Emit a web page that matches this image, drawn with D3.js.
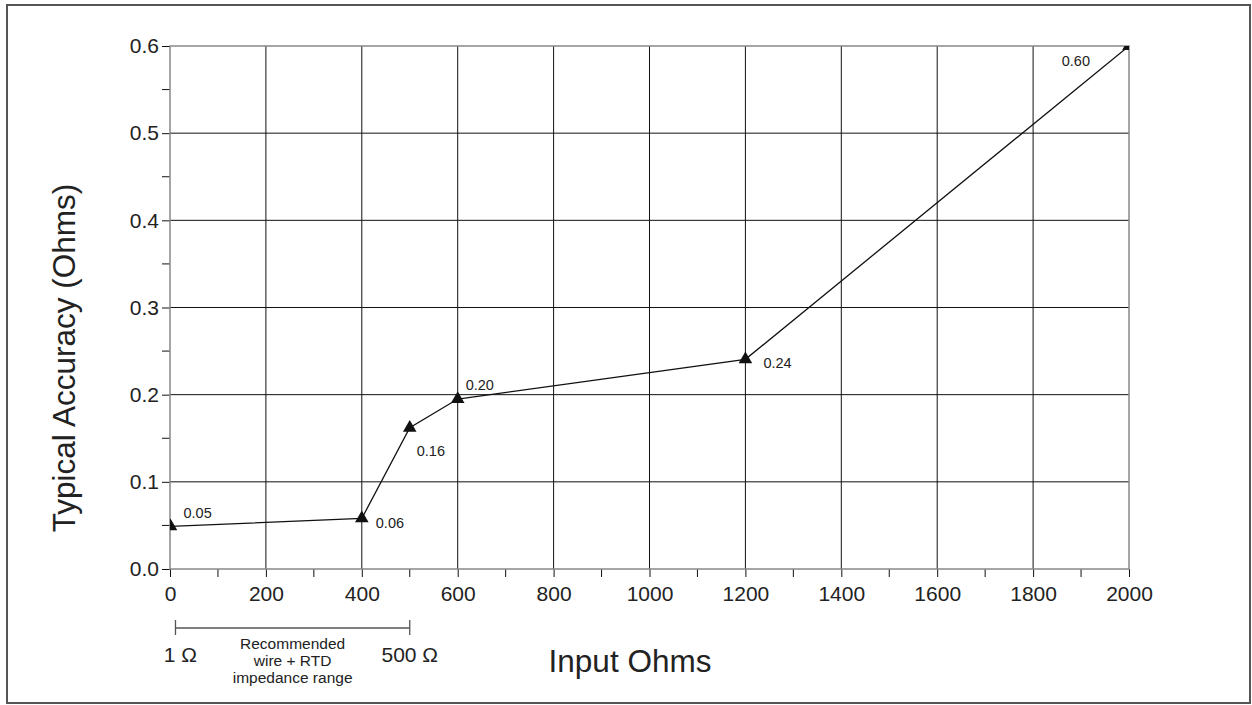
<!DOCTYPE html>
<html>
<head>
<meta charset="utf-8">
<script src="https://cdn.jsdelivr.net/npm/d3@7"></script>
<style>
  body { margin: 0; background: #fff; }
  text { font-family: "Liberation Sans", Arial, sans-serif; fill: #222; }
</style>
</head>
<body>
<div id="chart"></div>
<script>
// data
const inputOhms = [1, 400, 500, 600, 1200, 2000];
const accuracy = [0.049, 0.058, 0.162, 0.195, 0.2405, 0.6];
const pointLabels = ["0.05", "0.06", "0.16", "0.20", "0.24", "0.60"];
const xTicks = [0, 200, 400, 600, 800, 1000, 1200, 1400, 1600, 1800, 2000];
const yTicks = [0.0, 0.1, 0.2, 0.3, 0.4, 0.5, 0.6];
const rangeEnds = [1, 500];
const rangeLabels = ["1 \u03A9", "500 \u03A9"];
const rangeCaption = ["Recommended", "wire + RTD", "impedance range"];

// label placement relative to each point (dx, dy, anchor)
const labelOffsets = [[13, -8, "start"], [14, 10, "start"], [7, 28, "start"],
                      [8, -9, "start"], [18, 9, "start"], [-39, 20, "end"]];

const width = 1252, height = 705;
const margin = {left: 170, top: 46, right: 1252 - 1129, bottom: 705 - 569};
const iw = width - margin.left - margin.right,
      ih = height - margin.top - margin.bottom;

const svg = d3.select("#chart").append("svg")
    .attr("width", width)
    .attr("height", height);

// outer frame
svg.append("rect")
    .attr("x", 7).attr("y", 5)
    .attr("width", 1243).attr("height", 698)
    .attr("fill", "none")
    .attr("stroke", "#555")
    .attr("stroke-width", 2);

const x = d3.scaleLinear().domain([0, 2000]).range([0, iw]);
const y = d3.scaleLinear().domain([0, 0.6]).range([ih, 0]);

const g = svg.append("g")
    .attr("transform", "translate(" + margin.left + "," + margin.top + ")");

// grid
g.append("g").selectAll("line")
    .data(xTicks.slice(1, -1))
    .enter().append("line")
    .attr("x1", d => x(d)).attr("x2", d => x(d))
    .attr("y1", 0).attr("y2", ih)
    .attr("stroke", "#111").attr("stroke-width", 1);

g.append("g").selectAll("line")
    .data(yTicks.slice(1, -1))
    .enter().append("line")
    .attr("x1", 0).attr("x2", iw)
    .attr("y1", d => y(d)).attr("y2", d => y(d))
    .attr("stroke", "#111").attr("stroke-width", 1);

// minor ticks
const xMinor = d3.range(100, 2000, 200);
const yMinor = d3.range(0.05, 0.6, 0.1);

g.append("g").selectAll("line")
    .data(xMinor)
    .enter().append("line")
    .attr("x1", d => x(d)).attr("x2", d => x(d))
    .attr("y1", ih).attr("y2", ih + 8)
    .attr("stroke", "#111");

g.append("g").selectAll("line")
    .data(yMinor)
    .enter().append("line")
    .attr("x1", -8).attr("x2", 0)
    .attr("y1", d => y(d)).attr("y2", d => y(d))
    .attr("stroke", "#111");

// axes
const xAxis = g.append("g")
    .attr("transform", "translate(0," + ih + ")")
    .call(d3.axisBottom(x).tickValues(xTicks).tickFormat(d3.format("d"))
      .tickSize(8).tickPadding(9));

const yAxis = g.append("g")
    .call(d3.axisLeft(y).tickValues(yTicks).tickFormat(d3.format(".1f"))
      .tickSize(8).tickPadding(3));

[xAxis, yAxis].forEach(a => {
  a.select(".domain").remove();
  a.selectAll(".tick line").attr("stroke", "#111");
  a.selectAll("text")
    .attr("font-size", 21)
    .attr("font-family", "Liberation Sans, Arial, sans-serif")
    .attr("fill", "#222");
});

// plot frame
g.append("rect")
    .attr("width", iw).attr("height", ih)
    .attr("fill", "none")
    .attr("stroke", "#888")
    .attr("stroke-width", 1.5);

// clip for the series
svg.append("defs").append("clipPath")
    .attr("id", "plotClip")
    .append("rect")
    .attr("width", iw).attr("height", ih);

const data = inputOhms.map((v, i) => ({x: v, y: accuracy[i], label: pointLabels[i]}));

const series = g.append("g").attr("clip-path", "url(#plotClip)");

series.append("path")
    .datum(data)
    .attr("fill", "none")
    .attr("stroke", "#111")
    .attr("stroke-width", 1.3)
    .attr("d", d3.line().x(d => x(d.x)).y(d => y(d.y)));

series.selectAll(".marker")
    .data(data)
    .enter().append("path")
    .attr("class", "marker")
    .attr("transform", d => "translate(" + x(d.x) + "," + y(d.y) + ")")
    .attr("d", d3.symbol().type(d3.symbolTriangle).size(80))
    .attr("fill", "#111");

g.selectAll(".plabel")
    .data(data)
    .enter().append("text")
    .attr("class", "plabel")
    .attr("x", (d, i) => x(d.x) + labelOffsets[i][0])
    .attr("y", (d, i) => y(d.y) + labelOffsets[i][1])
    .attr("text-anchor", (d, i) => labelOffsets[i][2])
    .attr("font-size", 14.5)
    .text(d => d.label);

// axis titles
svg.append("text")
    .attr("transform", "translate(75,358) rotate(-90)")
    .attr("text-anchor", "middle")
    .attr("font-size", 31.5)
    .text("Typical Accuracy (Ohms)");

svg.append("text")
    .attr("x", 630).attr("y", 672)
    .attr("text-anchor", "middle")
    .attr("font-size", 31.5)
    .text("Input Ohms");

// recommended range bracket
const bx0 = margin.left + x(rangeEnds[0]) + 5,
      bx1 = margin.left + x(rangeEnds[1]),
      by = 628;

const bracket = svg.append("g").attr("stroke", "#555").attr("stroke-width", 1.3);
bracket.append("line").attr("x1", bx0).attr("x2", bx1).attr("y1", by).attr("y2", by);
bracket.append("line").attr("x1", bx0).attr("x2", bx0).attr("y1", by - 8).attr("y2", by + 7);
bracket.append("line").attr("x1", bx1).attr("x2", bx1).attr("y1", by - 8).attr("y2", by + 7);

svg.append("text")
    .attr("x", bx0 + 5).attr("y", 662)
    .attr("text-anchor", "middle")
    .attr("font-size", 21)
    .text(rangeLabels[0]);

svg.append("text")
    .attr("x", bx1).attr("y", 662)
    .attr("text-anchor", "middle")
    .attr("font-size", 21)
    .text(rangeLabels[1]);

svg.append("text")
    .attr("x", (bx0 + bx1) / 2)
    .attr("text-anchor", "middle")
    .attr("font-size", 15.5)
    .selectAll("tspan")
    .data(rangeCaption)
    .enter().append("tspan")
    .attr("x", (bx0 + bx1) / 2)
    .attr("y", (d, i) => 649 + i * 17)
    .text(d => d);
</script>
</body>
</html>
